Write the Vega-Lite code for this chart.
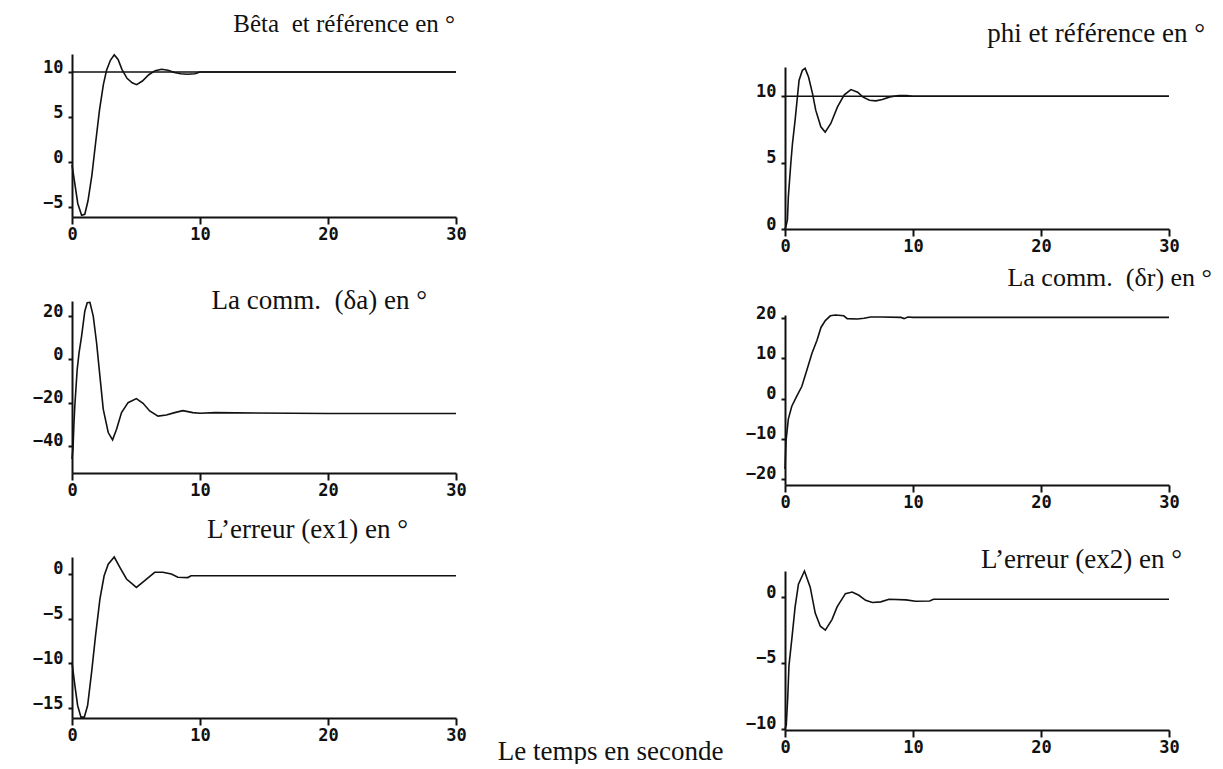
{
  "$schema": "https://vega.github.io/schema/vega-lite/v6.json",
  "background": "white",
  "padding": {"left": 32, "top": 11, "right": 5, "bottom": 0},
  "datasets": {
    "beta": [
      {"courbe": "bêta", "t": 0, "v": -0.3},
      {"courbe": "bêta", "t": 0.2, "v": -2.2},
      {"courbe": "bêta", "t": 0.45, "v": -4.6},
      {"courbe": "bêta", "t": 0.75, "v": -5.9},
      {"courbe": "bêta", "t": 1.0, "v": -5.8},
      {"courbe": "bêta", "t": 1.25, "v": -4.3},
      {"courbe": "bêta", "t": 1.55, "v": -1.5},
      {"courbe": "bêta", "t": 1.85, "v": 2.2},
      {"courbe": "bêta", "t": 2.15, "v": 5.8},
      {"courbe": "bêta", "t": 2.45, "v": 8.6},
      {"courbe": "bêta", "t": 2.7, "v": 10.2},
      {"courbe": "bêta", "t": 3.0, "v": 11.3},
      {"courbe": "bêta", "t": 3.3, "v": 11.9},
      {"courbe": "bêta", "t": 3.6, "v": 11.4},
      {"courbe": "bêta", "t": 3.9, "v": 10.3},
      {"courbe": "bêta", "t": 4.3, "v": 9.3},
      {"courbe": "bêta", "t": 4.7, "v": 8.8},
      {"courbe": "bêta", "t": 5.05, "v": 8.6},
      {"courbe": "bêta", "t": 5.5, "v": 9.0},
      {"courbe": "bêta", "t": 6.0, "v": 9.7},
      {"courbe": "bêta", "t": 6.5, "v": 10.15},
      {"courbe": "bêta", "t": 7.0, "v": 10.3},
      {"courbe": "bêta", "t": 7.5, "v": 10.2},
      {"courbe": "bêta", "t": 8.0, "v": 9.95},
      {"courbe": "bêta", "t": 8.5, "v": 9.8},
      {"courbe": "bêta", "t": 9.0, "v": 9.75},
      {"courbe": "bêta", "t": 9.6, "v": 9.8},
      {"courbe": "bêta", "t": 10.0, "v": 10.0},
      {"courbe": "bêta", "t": 20.0, "v": 10.0},
      {"courbe": "bêta", "t": 30.0, "v": 10.0},
      {"courbe": "référence", "t": 0, "v": 10},
      {"courbe": "référence", "t": 30, "v": 10}
    ],
    "da": [
      {"courbe": "δa", "t": 0, "v": -46},
      {"courbe": "δa", "t": 0.08, "v": -41},
      {"courbe": "δa", "t": 0.15, "v": -30},
      {"courbe": "δa", "t": 0.22, "v": -21.5},
      {"courbe": "δa", "t": 0.4, "v": -5},
      {"courbe": "δa", "t": 0.55, "v": 3},
      {"courbe": "δa", "t": 0.75, "v": 10.8},
      {"courbe": "δa", "t": 1.0, "v": 22.3},
      {"courbe": "δa", "t": 1.19, "v": 26.2},
      {"courbe": "δa", "t": 1.4, "v": 26.4},
      {"courbe": "δa", "t": 1.66, "v": 20},
      {"courbe": "δa", "t": 1.92, "v": 7.7},
      {"courbe": "δa", "t": 2.18, "v": -7.7},
      {"courbe": "δa", "t": 2.44, "v": -23},
      {"courbe": "δa", "t": 2.83, "v": -33.8},
      {"courbe": "δa", "t": 3.17, "v": -37.2},
      {"courbe": "δa", "t": 3.48, "v": -32.3},
      {"courbe": "δa", "t": 3.87, "v": -24.6},
      {"courbe": "δa", "t": 4.38, "v": -20},
      {"courbe": "δa", "t": 5.03, "v": -18.1},
      {"courbe": "δa", "t": 5.55, "v": -20.3},
      {"courbe": "δa", "t": 6.07, "v": -23.8},
      {"courbe": "δa", "t": 6.72, "v": -26.2},
      {"courbe": "δa", "t": 7.37, "v": -25.7},
      {"courbe": "δa", "t": 8.02, "v": -24.6},
      {"courbe": "δa", "t": 8.66, "v": -23.7},
      {"courbe": "δa", "t": 9.44, "v": -24.6},
      {"courbe": "δa", "t": 10.0, "v": -24.9},
      {"courbe": "δa", "t": 11.2, "v": -24.6},
      {"courbe": "δa", "t": 20.0, "v": -25},
      {"courbe": "δa", "t": 30.0, "v": -25}
    ],
    "ex1": [
      {"courbe": "ex1", "t": 0, "v": -9.9},
      {"courbe": "ex1", "t": 0.23, "v": -12.5},
      {"courbe": "ex1", "t": 0.44, "v": -14.7},
      {"courbe": "ex1", "t": 0.7, "v": -16.0},
      {"courbe": "ex1", "t": 0.96, "v": -16.0},
      {"courbe": "ex1", "t": 1.22, "v": -14.7},
      {"courbe": "ex1", "t": 1.53, "v": -11},
      {"courbe": "ex1", "t": 1.84, "v": -6.9},
      {"courbe": "ex1", "t": 2.18, "v": -2.8},
      {"courbe": "ex1", "t": 2.51, "v": -0.2},
      {"courbe": "ex1", "t": 2.83, "v": 1.1},
      {"courbe": "ex1", "t": 3.3, "v": 1.9},
      {"courbe": "ex1", "t": 3.74, "v": 0.75},
      {"courbe": "ex1", "t": 4.26, "v": -0.56},
      {"courbe": "ex1", "t": 5.03, "v": -1.5},
      {"courbe": "ex1", "t": 5.68, "v": -0.75},
      {"courbe": "ex1", "t": 6.46, "v": 0.19},
      {"courbe": "ex1", "t": 7.1, "v": 0.2},
      {"courbe": "ex1", "t": 7.76, "v": 0},
      {"courbe": "ex1", "t": 8.27, "v": -0.37},
      {"courbe": "ex1", "t": 9.05, "v": -0.4},
      {"courbe": "ex1", "t": 9.3, "v": -0.2},
      {"courbe": "ex1", "t": 10, "v": -0.2},
      {"courbe": "ex1", "t": 30, "v": -0.2}
    ],
    "phi": [
      {"courbe": "phi", "t": 0, "v": 0},
      {"courbe": "phi", "t": 0.1, "v": 0.3},
      {"courbe": "phi", "t": 0.19, "v": 0.7},
      {"courbe": "phi", "t": 0.26, "v": 2.4},
      {"courbe": "phi", "t": 0.45, "v": 4.9},
      {"courbe": "phi", "t": 0.58, "v": 6.4},
      {"courbe": "phi", "t": 0.79, "v": 8.2},
      {"courbe": "phi", "t": 0.97, "v": 9.95},
      {"courbe": "phi", "t": 1.1, "v": 11.2},
      {"courbe": "phi", "t": 1.36, "v": 11.95},
      {"courbe": "phi", "t": 1.57, "v": 12.1},
      {"courbe": "phi", "t": 1.84, "v": 11.45},
      {"courbe": "phi", "t": 2.15, "v": 10.2},
      {"courbe": "phi", "t": 2.4, "v": 8.95},
      {"courbe": "phi", "t": 2.8, "v": 7.7},
      {"courbe": "phi", "t": 3.14, "v": 7.3},
      {"courbe": "phi", "t": 3.58, "v": 7.95},
      {"courbe": "phi", "t": 4.1, "v": 9.2},
      {"courbe": "phi", "t": 4.63, "v": 10.1},
      {"courbe": "phi", "t": 5.15, "v": 10.5},
      {"courbe": "phi", "t": 5.68, "v": 10.3},
      {"courbe": "phi", "t": 6.07, "v": 9.95},
      {"courbe": "phi", "t": 6.6, "v": 9.7},
      {"courbe": "phi", "t": 7.1, "v": 9.65},
      {"courbe": "phi", "t": 7.6, "v": 9.75},
      {"courbe": "phi", "t": 8.2, "v": 9.95},
      {"courbe": "phi", "t": 8.9, "v": 10.05},
      {"courbe": "phi", "t": 9.5, "v": 10.05},
      {"courbe": "phi", "t": 10, "v": 10},
      {"courbe": "phi", "t": 30, "v": 10},
      {"courbe": "référence", "t": 0, "v": 10},
      {"courbe": "référence", "t": 30, "v": 10}
    ],
    "dr": [
      {"courbe": "δr", "t": 0, "v": -17.5},
      {"courbe": "δr", "t": 0.08, "v": -10.5},
      {"courbe": "δr", "t": 0.26, "v": -5.1},
      {"courbe": "δr", "t": 0.53, "v": -1.9},
      {"courbe": "δr", "t": 0.92, "v": 0.6},
      {"courbe": "δr", "t": 1.31, "v": 3.0},
      {"courbe": "δr", "t": 1.71, "v": 7.1},
      {"courbe": "δr", "t": 2.1, "v": 11.2},
      {"courbe": "δr", "t": 2.5, "v": 14.5},
      {"courbe": "δr", "t": 2.81, "v": 17.7},
      {"courbe": "δr", "t": 3.15, "v": 19.4},
      {"courbe": "δr", "t": 3.54, "v": 20.6},
      {"courbe": "δr", "t": 3.94, "v": 20.8},
      {"courbe": "δr", "t": 4.59, "v": 20.6},
      {"courbe": "δr", "t": 4.86, "v": 19.9},
      {"courbe": "δr", "t": 5.65, "v": 19.8},
      {"courbe": "δr", "t": 6.17, "v": 20.0},
      {"courbe": "δr", "t": 6.69, "v": 20.3},
      {"courbe": "δr", "t": 7.48, "v": 20.3},
      {"courbe": "δr", "t": 9.06, "v": 20.2},
      {"courbe": "δr", "t": 9.3, "v": 19.9},
      {"courbe": "δr", "t": 9.6, "v": 20.3},
      {"courbe": "δr", "t": 10, "v": 20.2},
      {"courbe": "δr", "t": 30, "v": 20.2}
    ],
    "ex2": [
      {"courbe": "ex2", "t": 0, "v": -10},
      {"courbe": "ex2", "t": 0.1, "v": -9.7},
      {"courbe": "ex2", "t": 0.21, "v": -7.7},
      {"courbe": "ex2", "t": 0.31, "v": -5.2},
      {"courbe": "ex2", "t": 0.53, "v": -3.2},
      {"courbe": "ex2", "t": 0.79, "v": -0.73},
      {"courbe": "ex2", "t": 1.05, "v": 1.0},
      {"courbe": "ex2", "t": 1.52, "v": 2.0},
      {"courbe": "ex2", "t": 1.97, "v": 0.77},
      {"courbe": "ex2", "t": 2.36, "v": -1.2},
      {"courbe": "ex2", "t": 2.76, "v": -2.2},
      {"courbe": "ex2", "t": 3.15, "v": -2.5},
      {"courbe": "ex2", "t": 3.67, "v": -1.7},
      {"courbe": "ex2", "t": 4.07, "v": -0.73},
      {"courbe": "ex2", "t": 4.72, "v": 0.28},
      {"courbe": "ex2", "t": 5.25, "v": 0.4},
      {"courbe": "ex2", "t": 5.77, "v": 0.15},
      {"courbe": "ex2", "t": 6.3, "v": -0.23},
      {"courbe": "ex2", "t": 6.83, "v": -0.4},
      {"courbe": "ex2", "t": 7.48, "v": -0.35},
      {"courbe": "ex2", "t": 8.13, "v": -0.15},
      {"courbe": "ex2", "t": 9.45, "v": -0.2},
      {"courbe": "ex2", "t": 10.2, "v": -0.3},
      {"courbe": "ex2", "t": 11.3, "v": -0.28},
      {"courbe": "ex2", "t": 11.6, "v": -0.15},
      {"courbe": "ex2", "t": 30, "v": -0.15}
    ]
  },
  "hconcat": [
    {
      "vconcat": [
        {
          "width": 384, "height": 163,
          "title": {"text": "Bêta\u00a0 et référence en °", "dx": -1, "dy": -11},
          "data": {"name": "beta"},
          "mark": {"type": "line", "color": "#111", "strokeWidth": 1.6, "clip": false},
          "encoding": {
            "x": {"field": "t", "type": "quantitative", "title": null, "scale": {"domain": [0, 30], "nice": false}, "axis": {"values": [0, 10, 20, 30]}},
            "y": {"field": "v", "type": "quantitative", "title": null, "scale": {"domain": [-6.1, 12], "nice": false, "zero": false}, "axis": {"values": [-5, 0, 5, 10]}},
            "detail": {"field": "courbe"}
          }
        },
        {
          "width": 384, "height": 172,
          "title": {"text": "La comm.\u00a0 (δa) en °", "fontSize": 27, "dx": -29, "dy": 20},
          "data": {"name": "da"},
          "mark": {"type": "line", "color": "#111", "strokeWidth": 1.6, "clip": false},
          "encoding": {
            "x": {"field": "t", "type": "quantitative", "title": null, "scale": {"domain": [0, 30], "nice": false}, "axis": {"values": [0, 10, 20, 30]}},
            "y": {"field": "v", "type": "quantitative", "title": null, "scale": {"domain": [-52.5, 27], "nice": false, "zero": false}, "axis": {"values": [-40, -20, 0, 20]}},
            "detail": {"field": "courbe"}
          }
        },
        {
          "width": 384, "height": 161,
          "title": {"text": "L’erreur (ex1) en °", "fontSize": 27, "dx": -48, "dy": -6},
          "data": {"name": "ex1"},
          "mark": {"type": "line", "color": "#111", "strokeWidth": 1.6, "clip": false},
          "encoding": {
            "x": {"field": "t", "type": "quantitative", "title": null, "scale": {"domain": [0, 30], "nice": false}, "axis": {"values": [0, 10, 20, 30]}},
            "y": {"field": "v", "type": "quantitative", "title": null, "scale": {"domain": [-16.1, 1.9], "nice": false, "zero": false}, "axis": {"values": [-15, -10, -5, 0]}},
            "detail": {"field": "courbe"}
          }
        }
      ],
      "spacing": 84,
      "bounds": "flush"
    },
    {
      "vconcat": [
        {
          "width": 384, "height": 13,
          "data": {"values": [{}]},
          "mark": {"type": "point", "opacity": 0},
          "encoding": {}
        },
        {
          "vconcat": [
            {
              "width": 384, "height": 162,
              "title": {"text": "phi et référence en °", "fontSize": 27, "dx": 36, "dy": -13},
              "data": {"name": "phi"},
              "mark": {"type": "line", "color": "#111", "strokeWidth": 1.6, "clip": false},
              "encoding": {
                "x": {"field": "t", "type": "quantitative", "title": null, "scale": {"domain": [0, 30], "nice": false}, "axis": {"values": [0, 10, 20, 30]}},
                "y": {"field": "v", "type": "quantitative", "title": null, "scale": {"domain": [0, 12.2], "nice": false, "zero": false}, "axis": {"values": [0, 5, 10]}},
                "detail": {"field": "courbe"}
              }
            },
            {
              "width": 384, "height": 170,
              "title": {"text": "La comm.\u00a0 (δr) en °", "fontSize": 26, "dx": 43, "dy": -9},
              "data": {"name": "dr"},
              "mark": {"type": "line", "color": "#111", "strokeWidth": 1.6, "clip": false},
              "encoding": {
                "x": {"field": "t", "type": "quantitative", "title": null, "scale": {"domain": [0, 30], "nice": false}, "axis": {"values": [0, 10, 20, 30]}},
                "y": {"field": "v", "type": "quantitative", "title": null, "scale": {"domain": [-21.5, 20.8], "nice": false, "zero": false}, "axis": {"values": [-20, -10, 0, 10, 20]}},
                "detail": {"field": "courbe"}
              }
            },
            {
              "width": 384, "height": 159,
              "title": {"text": "L’erreur (ex2) en °", "fontSize": 27, "dx": 13, "dy": 10},
              "data": {"name": "ex2"},
              "mark": {"type": "line", "color": "#111", "strokeWidth": 1.6, "clip": false},
              "encoding": {
                "x": {"field": "t", "type": "quantitative", "scale": {"domain": [0, 30], "nice": false},
                      "title": "Le temps en seconde",
                      "axis": {"values": [0, 10, 20, 30], "titleX": -62, "titleY": 29, "titleAlign": "right", "titleAnchor": "start", "titleBaseline": "alphabetic", "titleFont": "Liberation Serif", "titleFontSize": 27, "titleFontWeight": "normal", "titleColor": "#111"}},
                "y": {"field": "v", "type": "quantitative", "title": null, "scale": {"domain": [-10.1, 2.0], "nice": false, "zero": false}, "axis": {"values": [-10, -5, 0]}},
                "detail": {"field": "courbe"}
              }
            }
          ],
          "spacing": 86,
          "bounds": "flush"
        }
      ],
      "spacing": 0,
      "bounds": "flush"
    }
  ],
  "spacing": 713,
  "bounds": "flush",
  "config": {
    "view": {"stroke": null},
    "axis": {
      "grid": false,
      "domainColor": "#111",
      "domainWidth": 2,
      "tickColor": "#111",
      "tickWidth": 2,
      "labelFont": "DejaVu Sans Mono",
      "labelFontWeight": "bold",
      "labelFontSize": 17,
      "labelColor": "#111"
    },
    "axisX": {"tickSize": 7, "labelPadding": 2, "labelFlush": false},
    "axisY": {"tickSize": 4, "labelPadding": 5, "labelBaseline": "alphabetic"},
    "title": {
      "font": "Liberation Serif",
      "fontSize": 25,
      "fontWeight": "normal",
      "color": "#111",
      "anchor": "end",
      "frame": "group",
      "offset": 0,
      "baseline": "alphabetic"
    }
  }
}
